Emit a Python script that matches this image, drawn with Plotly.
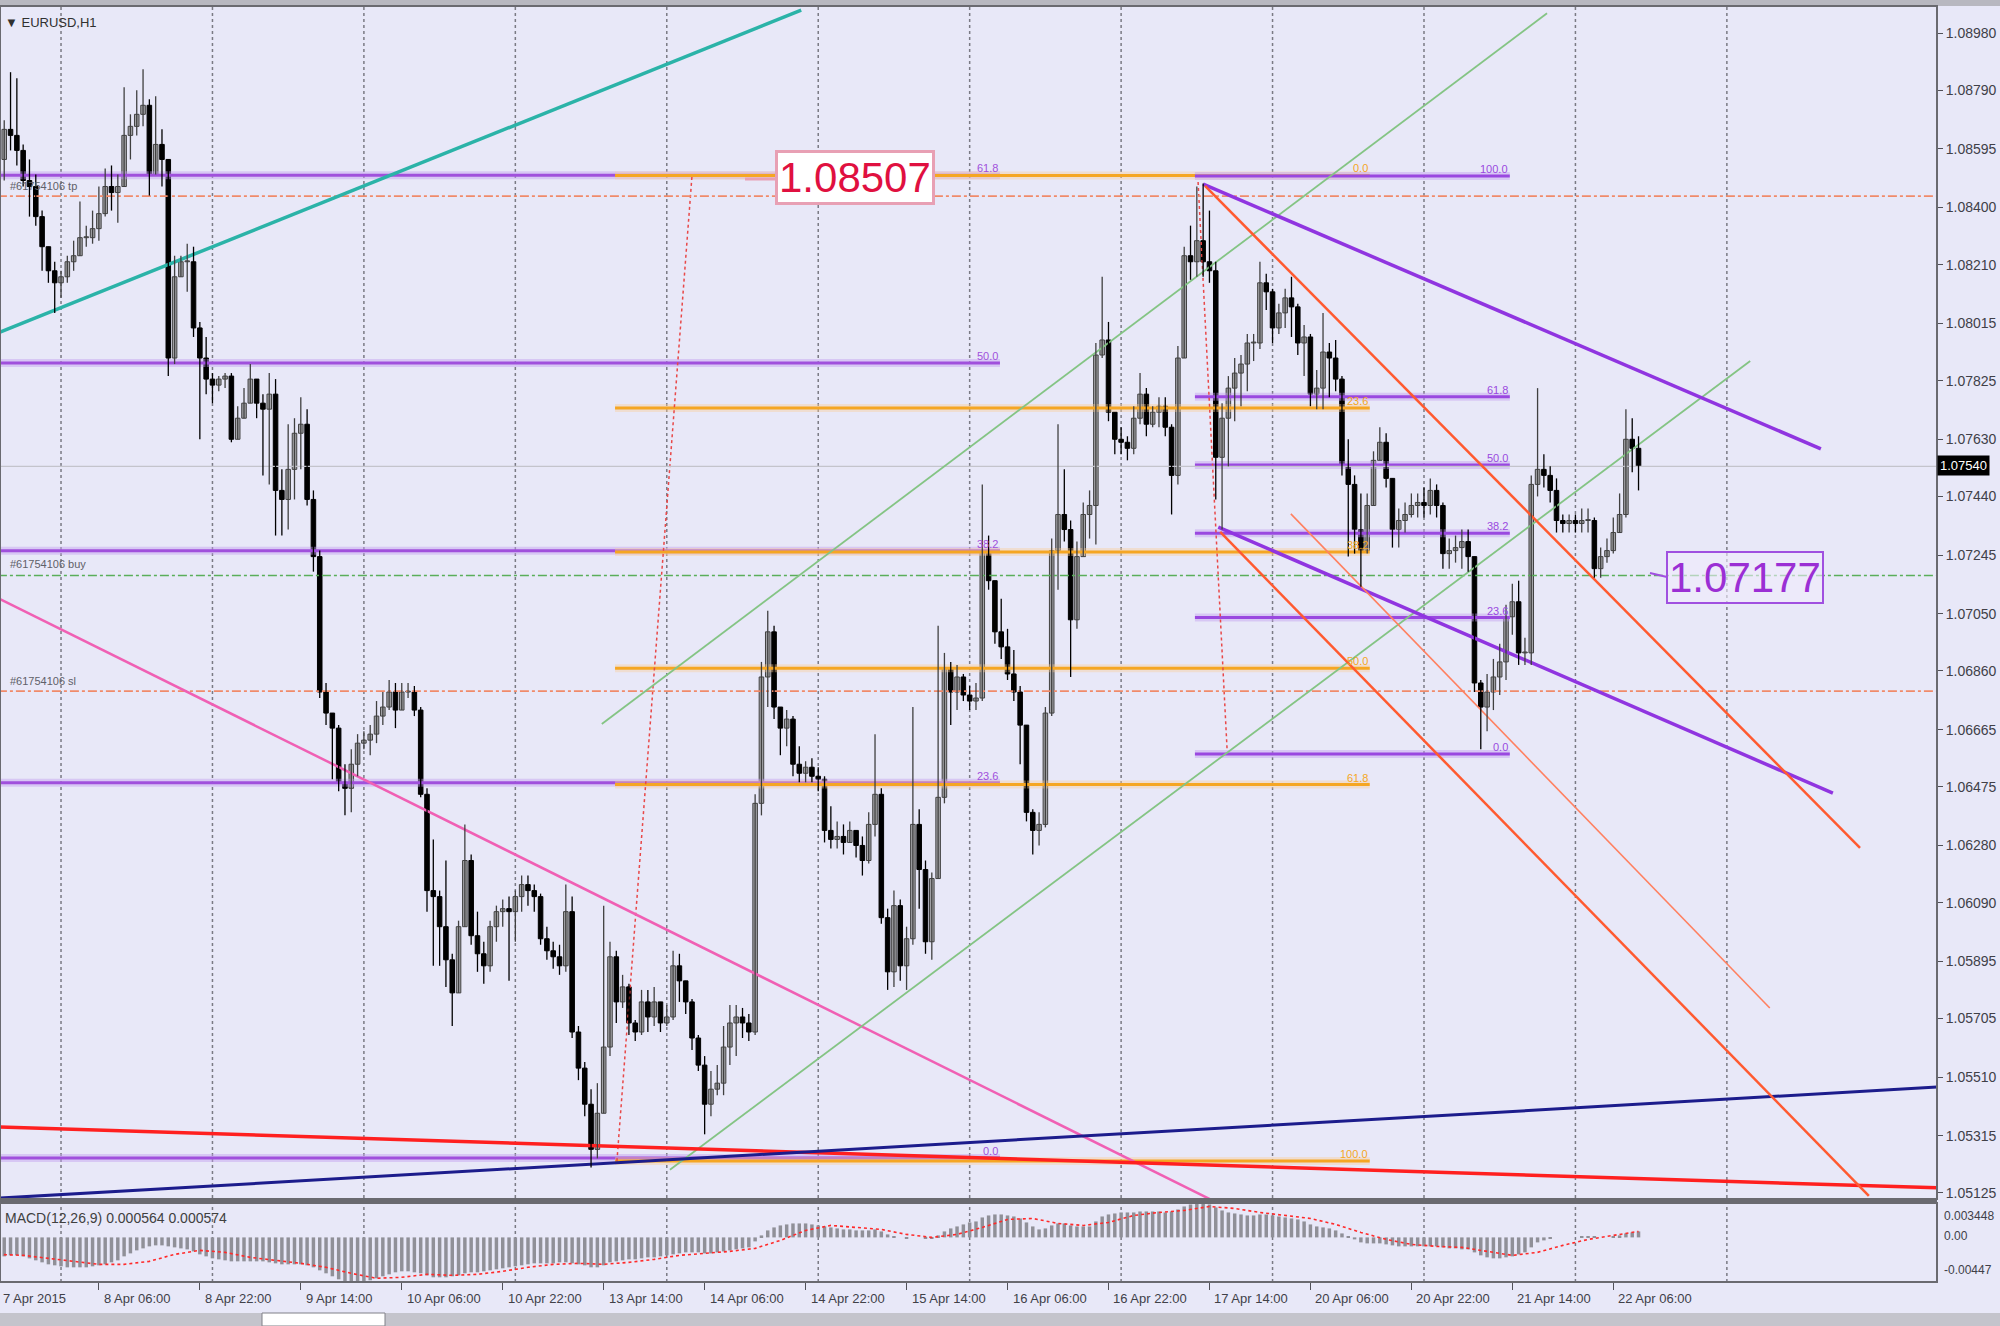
import plotly.graph_objects as go

# ---------------- EURUSD H1 candles (bar 0 = 7 Apr 14:00) ----------------
first_open = 1.0851

closes = [
    1.0856, 1.0866, 1.0864, 1.0859, 1.0849, 1.0847, 1.0837, 1.0827, 1.0819, 1.0815,  # 0
    1.0817, 1.0822, 1.0824, 1.0830, 1.0830, 1.0833, 1.0838, 1.0847, 1.0845, 1.0847,  # 10
    1.0864, 1.0867, 1.0871, 1.0874, 1.0851, 1.0861, 1.0856, 1.0790, 1.0817, 1.0822,  # 20
    1.0822, 1.0800, 1.0790, 1.0783, 1.0781, 1.0783, 1.0784, 1.0763, 1.0770, 1.0775,  # 30
    1.0783, 1.0775, 1.0773, 1.0778, 1.0746, 1.0743, 1.0753, 1.0765, 1.0768, 1.0743,  # 40
    1.0724, 1.0679, 1.0672, 1.0667, 1.0649, 1.0647, 1.0655, 1.0662, 1.0663, 1.0665,  # 50
    1.0671, 1.0674, 1.0679, 1.0673, 1.0679, 1.0679, 1.0673, 1.0645, 1.0613, 1.0611,  # 60
    1.0601, 1.0590, 1.0579, 1.0601, 1.0623, 1.0598, 1.0592, 1.0588, 1.0601, 1.0606,  # 70
    1.0607, 1.0606, 1.0611, 1.0615, 1.0613, 1.0611, 1.0597, 1.0593, 1.0591, 1.0588,  # 80
    1.0606, 1.0566, 1.0554, 1.0542, 1.0527, 1.0539, 1.0561, 1.0591, 1.0576, 1.0581,  # 90
    1.0569, 1.0566, 1.0576, 1.0571, 1.0576, 1.0569, 1.0571, 1.0588, 1.0583, 1.0576,  # 100
    1.0564, 1.0555, 1.0542, 1.0547, 1.0549, 1.0561, 1.0569, 1.0571, 1.0569, 1.0566,  # 110
    1.0642, 1.0684, 1.0699, 1.0674, 1.0667, 1.0670, 1.0655, 1.0652, 1.0654, 1.0651,  # 120
    1.0650, 1.0633, 1.0630, 1.0631, 1.0629, 1.0633, 1.0628, 1.0623, 1.0635, 1.0645,  # 130
    1.0604, 1.0586, 1.0608, 1.0588, 1.0597, 1.0635, 1.0620, 1.0596, 1.0617, 1.0644,  # 140
    1.0687, 1.0679, 1.0684, 1.0678, 1.0676, 1.0677, 1.0726, 1.0716, 1.0699, 1.0694,  # 150
    1.0685, 1.0679, 1.0668, 1.0639, 1.0633, 1.0635, 1.0672, 1.0726, 1.0738, 1.0733,  # 160
    1.0703, 1.0724, 1.0738, 1.0741, 1.0791, 1.0796, 1.0772, 1.0763, 1.0762, 1.0760,  # 170
    1.0770, 1.0778, 1.0768, 1.0772, 1.0774, 1.0767, 1.0751, 1.0790, 1.0824, 1.0822,  # 180
    1.0829, 1.0822, 1.0819, 1.0757, 1.0770, 1.0780, 1.0785, 1.0788, 1.0795, 1.0795,  # 190
    1.0815, 1.0812, 1.0800, 1.0805, 1.0810, 1.0807, 1.0795, 1.0797, 1.0778, 1.0780,  # 200
    1.0792, 1.0790, 1.0783, 1.0754, 1.0748, 1.0733, 1.0726, 1.0741, 1.0756, 1.0762,  # 210
    1.0750, 1.0733, 1.0736, 1.0738, 1.0741, 1.0742, 1.0741, 1.0746, 1.0741, 1.0725,  # 220
    1.0726, 1.0727, 1.0729, 1.0724, 1.0682, 1.0674, 1.0679, 1.0684, 1.0689, 1.0704,  # 230
    1.0709, 1.0692, 1.0692, 1.0748, 1.0753, 1.0751, 1.0746, 1.0736, 1.0735, 1.0736,  # 240
    1.0735, 1.0736, 1.0736, 1.0720, 1.0724, 1.0726, 1.0732, 1.0738, 1.0763, 1.0760,  # 250
    1.0754,                                                                          # 260
]

highs = [
    1.0871, 1.0869, 1.0885, 1.0883, 1.0861, 1.0856, 1.0851, 1.0839, 1.0827, 1.0822,
    1.0819, 1.0824, 1.0829, 1.0842, 1.0834, 1.0839, 1.0847, 1.0853, 1.0854, 1.0851,
    1.0880, 1.0871, 1.0879, 1.0886, 1.0876, 1.0877, 1.0866, 1.0856, 1.0824, 1.0824,
    1.0828, 1.0827, 1.0802, 1.0797, 1.0785, 1.0784, 1.0785, 1.0785, 1.0774, 1.0780,
    1.0788, 1.0783, 1.0778, 1.0785, 1.0783, 1.0753, 1.0768, 1.0770, 1.0777, 1.0773,
    1.0746, 1.0726, 1.0682, 1.0672, 1.0668, 1.0655, 1.0660, 1.0665, 1.0666, 1.0668,
    1.0676, 1.0679, 1.0683, 1.0682, 1.0682, 1.0682, 1.0681, 1.0674, 1.0647, 1.0630,
    1.0613, 1.0623, 1.0592, 1.0603, 1.0635, 1.0625, 1.0606, 1.0596, 1.0603, 1.0608,
    1.0610, 1.0611, 1.0613, 1.0618, 1.0618, 1.0615, 1.0612, 1.0601, 1.0596, 1.0595,
    1.0615, 1.0611, 1.0568, 1.0556, 1.0547, 1.0549, 1.0608, 1.0596, 1.0593, 1.0585,
    1.0582, 1.0570, 1.0580, 1.0580, 1.0581, 1.0574, 1.0575, 1.0593, 1.0592, 1.0582,
    1.0577, 1.0565, 1.0558, 1.0553, 1.0555, 1.0568, 1.0575, 1.0575, 1.0574, 1.0572,
    1.0645, 1.0689, 1.0706, 1.0701, 1.0673, 1.0673, 1.0671, 1.0661, 1.0656, 1.0657,
    1.0654, 1.0651, 1.0641, 1.0636, 1.0635, 1.0636, 1.0633, 1.0631, 1.0639, 1.0665,
    1.0647, 1.0607, 1.0613, 1.0610, 1.0601, 1.0674, 1.0640, 1.0623, 1.0619, 1.0701,
    1.0692, 1.0689, 1.0688, 1.0685, 1.0681, 1.0682, 1.0748, 1.0731, 1.0716, 1.0710,
    1.0700, 1.0693, 1.0681, 1.0668, 1.0640, 1.0639, 1.0674, 1.0730, 1.0768, 1.0753,
    1.0736, 1.0729, 1.0742, 1.0746, 1.0795, 1.0817, 1.0802, 1.0772, 1.0767, 1.0764,
    1.0774, 1.0785, 1.0780, 1.0774, 1.0777, 1.0777, 1.0768, 1.0794, 1.0827, 1.0834,
    1.0847, 1.0848, 1.0839, 1.0822, 1.0775, 1.0784, 1.0790, 1.0791, 1.0798, 1.0798,
    1.0822, 1.0818, 1.0813, 1.0808, 1.0813, 1.0817, 1.0808, 1.0801, 1.0798, 1.0786,
    1.0805, 1.0795, 1.0796, 1.0784, 1.0763, 1.0751, 1.0745, 1.0745, 1.0759, 1.0767,
    1.0765, 1.0750, 1.0740, 1.0742, 1.0745, 1.0745, 1.0747, 1.0750, 1.0748, 1.0742,
    1.0730, 1.0731, 1.0733, 1.0733, 1.0724, 1.0683, 1.0685, 1.0690, 1.0695, 1.0708,
    1.0715, 1.0716, 1.0697, 1.0751, 1.0780, 1.0758, 1.0754, 1.0750, 1.0738, 1.0738,
    1.0738, 1.0740, 1.0740, 1.0737, 1.0727, 1.0730, 1.0737, 1.0745, 1.0773, 1.0770,
    1.0764,
]

lows = [
    1.0847, 1.0849, 1.0859, 1.0854, 1.0847, 1.0837, 1.0834, 1.0819, 1.0815, 1.0805,
    1.0810, 1.0815, 1.0819, 1.0824, 1.0827, 1.0828, 1.0829, 1.0837, 1.0839, 1.0835,
    1.0847, 1.0856, 1.0864, 1.0867, 1.0844, 1.0851, 1.0847, 1.0784, 1.0788, 1.0817,
    1.0812, 1.0797, 1.0763, 1.0778, 1.0775, 1.0779, 1.0780, 1.0762, 1.0763, 1.0770,
    1.0775, 1.0770, 1.0751, 1.0748, 1.0731, 1.0731, 1.0733, 1.0743, 1.0753, 1.0741,
    1.0719, 1.0677, 1.0668, 1.0650, 1.0646, 1.0638, 1.0639, 1.0651, 1.0660, 1.0658,
    1.0662, 1.0668, 1.0673, 1.0667, 1.0673, 1.0677, 1.0671, 1.0644, 1.0606, 1.0588,
    1.0588, 1.0581, 1.0568, 1.0579, 1.0601, 1.0595, 1.0586, 1.0582, 1.0586, 1.0596,
    1.0601, 1.0583, 1.0596, 1.0606, 1.0608, 1.0606, 1.0595, 1.0590, 1.0587, 1.0585,
    1.0586, 1.0564, 1.0550, 1.0538, 1.0521, 1.0524, 1.0547, 1.0558, 1.0569, 1.0574,
    1.0565, 1.0563, 1.0565, 1.0566, 1.0568, 1.0566, 1.0568, 1.0570, 1.0576, 1.0572,
    1.0560, 1.0553, 1.0532, 1.0538, 1.0545, 1.0545, 1.0555, 1.0558, 1.0564, 1.0563,
    1.0565, 1.0638, 1.0674, 1.0670, 1.0658, 1.0661, 1.0651, 1.0649, 1.0649, 1.0649,
    1.0646, 1.0629, 1.0627, 1.0627, 1.0625, 1.0629, 1.0624, 1.0618, 1.0622, 1.0631,
    1.0602, 1.0580, 1.0581, 1.0583, 1.0580, 1.0595, 1.0607, 1.0592, 1.0590, 1.0617,
    1.0642, 1.0668, 1.0673, 1.0676, 1.0673, 1.0673, 1.0676, 1.0713, 1.0695, 1.0690,
    1.0683, 1.0676, 1.0655, 1.0636, 1.0625, 1.0628, 1.0634, 1.0671, 1.0713, 1.0729,
    1.0684, 1.0700, 1.0724, 1.0730, 1.0728, 1.0790, 1.0769, 1.0758, 1.0758, 1.0756,
    1.0758, 1.0768, 1.0764, 1.0767, 1.0767, 1.0764, 1.0738, 1.0748, 1.0790, 1.0816,
    1.0817, 1.0817, 1.0815, 1.0743, 1.0733, 1.0754, 1.0769, 1.0774, 1.0779, 1.0789,
    1.0793, 1.0806, 1.0795, 1.0798, 1.0800, 1.0797, 1.0791, 1.0784, 1.0774, 1.0773,
    1.0773, 1.0777, 1.0779, 1.0751, 1.0724, 1.0725, 1.0714, 1.0725, 1.0742, 1.0757,
    1.0747, 1.0727, 1.0727, 1.0732, 1.0737, 1.0737, 1.0737, 1.0738, 1.0737, 1.0720,
    1.0720, 1.0722, 1.0720, 1.0719, 1.0679, 1.0660, 1.0666, 1.0673, 1.0678, 1.0683,
    1.0698, 1.0688, 1.0688, 1.0688, 1.0744, 1.0747, 1.0742, 1.0732, 1.0732, 1.0732,
    1.0732, 1.0732, 1.0732, 1.0717, 1.0717, 1.0722, 1.0725, 1.0732, 1.0737, 1.0752,
    1.0746,
]

# MACD(12,26,9) main histogram, in units of 1e-4
macd_hist_e4 = [
    -20, -19, -18, -18, -19, -21, -23, -25, -27, -28,
    -29, -30, -30, -30, -30, -29, -28, -27, -25, -23,
    -19, -16, -13, -11, -9, -8, -8, -9, -10, -11,
    -12, -14, -17, -19, -21, -22, -23, -24, -24, -24,
    -24, -24, -24, -25, -26, -27, -27, -27, -27, -28,
    -30, -33, -36, -39, -42, -44, -45, -45, -44, -43,
    -41, -39, -37, -35, -34, -34, -35, -36, -38, -40,
    -40, -40, -39, -38, -36, -35, -35, -34, -33, -32,
    -31, -30, -29, -28, -27, -26, -26, -26, -26, -25,
    -25, -26, -27, -28, -30, -30, -28, -25, -24, -23,
    -22, -22, -21, -20, -20, -19, -18, -17, -16, -15,
    -15, -15, -16, -16, -15, -14, -13, -12, -11, -10,
    -4, 2, 7, 10, 12, 13, 14, 14, 14, 13,
    12, 11, 10, 9, 8, 8, 7, 7, 7, 8,
    6, 3, 1, 0, -1, 0, 0, -1, -1, 2,
    6, 9, 11, 13, 15, 16, 20, 22, 23, 23,
    22, 21, 19, 15, 11, 8, 9, 12, 14, 14,
    12, 11, 11, 11, 16, 21, 23, 24, 25, 25,
    25, 26, 26, 26, 26, 25, 26, 28, 31, 33,
    34, 34, 33, 30, 27, 25, 24, 23, 22, 22,
    23, 23, 22, 21, 20, 19, 18, 16, 13, 11,
    10, 9, 7, 4, 1, -2, -5, -6, -6, -6,
    -7, -8, -9, -9, -9, -9, -9, -9, -9, -10,
    -11, -11, -12, -12, -15, -18, -20, -21, -21, -20,
    -19, -17, -15, -10, -5, -3, -1, 0, 0, 0,
    0, 1, 1, 1, 0, 0, 1, 2, 4, 5,
    6,
]

# signal line, read every 4th bar (1e-4 units)
signal_bars = list(range(0, 261, 4))
signal_e4 = [
    -17, -18, -21, -24, -27, -27, -24, -17, -13, -15, -20, -23, -26, -30, -36, -41,
    -40, -37, -38, -37, -34, -30, -27, -26, -27, -25, -22, -18, -16, -14, -11, -3,
    7, 12, 10, 8, 3, 0, 3, 10, 18, 19, 14, 12, 15, 22, 25, 27, 31, 29,
    25, 22, 19, 13, 5, -2, -7, -9, -10, -14, -18, -15, -8, -2, 2, 6,
]
macd_max, macd_min = 0.003448, -0.00447

time_labels = ["7 Apr 2015", "8 Apr 06:00", "8 Apr 22:00", "9 Apr 14:00", "10 Apr 06:00",
               "10 Apr 22:00", "13 Apr 14:00", "14 Apr 06:00", "14 Apr 22:00", "15 Apr 14:00",
               "16 Apr 06:00", "16 Apr 22:00", "17 Apr 14:00", "20 Apr 06:00", "20 Apr 22:00",
               "21 Apr 14:00", "22 Apr 06:00"]
time_label_bars = [0, 16, 32, 48, 64, 80, 96, 112, 128, 144, 160, 176, 192, 208, 224, 240, 256]
day_start_bars = [10, 34, 58, 82, 106, 130, 154, 178, 202, 226, 250, 274]

price_ticks = [1.08980, 1.08790, 1.08595, 1.08400, 1.08210, 1.08015, 1.07825, 1.07630,
               1.07440, 1.07245, 1.07050, 1.06860, 1.06665, 1.06475, 1.06280, 1.06090,
               1.05895, 1.05705, 1.05510, 1.05315, 1.05125]

# ---------------- drawn objects (bar index, price) ----------------
fib_levels = [0.0, 23.6, 38.2, 50.0, 61.8, 100.0]
fib1 = dict(x=[-5, 158.8], p0=1.05241, p100=1.10526)      # purple, left
fib2 = dict(x=[97.8, 217.4], p0=1.08507, p100=1.05231)    # orange, middle
fib3 = dict(x=[189.7, 239.6], p0=1.06584, p100=1.08505)   # purple, right
fib2_anchor_x, fib2_anchor_y = [98.1, 110.0], [1.05231, 1.08507]
fib3_anchor_x, fib3_anchor_y = [190.2, 194.8], [1.08485, 1.06597]

order_tp, order_buy, order_sl = 1.08438, 1.07177, 1.06793
last_price = 1.07540

cyan_x, cyan_y = [0.33, 127.3], [1.07986, 1.09056]
pink_x, pink_y = [0.33, 205.0], [1.07099, 1.04970]
green_up_x, green_up_y = [95.7, 245.5], [1.06684, 1.09046]
green_lo_x, green_lo_y = [106.5, 277.7], [1.05202, 1.07890]
purple_up_x, purple_up_y = [191.0, 288.9], [1.08478, 1.07598]
purple_lo_x, purple_lo_y = [193.4, 290.8], [1.07338, 1.06454]
fork_a_x, fork_a_y = [191.3, 295.1], [1.08472, 1.06272]
fork_b_x, fork_b_y = [193.7, 296.5], [1.07322, 1.05115]
fork_c_x, fork_c_y = [204.9, 280.8], [1.07382, 1.05740]
red_x, red_y = [0.33, 307.3], [1.05344, 1.05142]
navy_x, navy_y = [0.33, 307.3], [1.05108, 1.05477]

W, H = 2000, 1326
XR = 1937                      # right edge of the chart panes, px
BG = "#e8e8f8"
SANS = "Liberation Sans, Arial"


def py(p):
    return 1 - p / H


def px(p):
    return p / W


bars = list(range(len(closes)))
opens = [first_open] + closes[:-1]
highs = [max(h, o, c) for h, o, c in zip(highs, opens, closes)]
lows = [min(l, o, c) for l, o, c in zip(lows, opens, closes)]

fig = go.Figure()


def add_line(x, y, color, width, dash=None):
    fig.add_trace(go.Scatter(x=x, y=y, mode="lines", hoverinfo="skip", showlegend=False,
                             line=dict(color=color, width=width, dash=dash)))


annotations = []


def add_fib(fib, levels, color, halo):
    for lv in levels:
        price = fib["p0"] + (fib["p100"] - fib["p0"]) * lv / 100
        add_line(fib["x"], [price, price], halo, 8)
        add_line(fib["x"], [price, price], color, 3)
        annotations.append(dict(x=fib["x"][1], y=price, xref="x", yref="y", text=f"{lv:.1f}",
                                showarrow=False, xanchor="right", yanchor="bottom", yshift=-1,
                                font=dict(family=SANS, size=11, color=color)))


# candle bodies (bars with a base) and wicks
up = [c >= o for o, c in zip(opens, closes)]
fig.add_trace(go.Bar(
    x=bars, base=[min(o, c) for o, c in zip(opens, closes)],
    y=[max(abs(c - o), 0.00003) for o, c in zip(opens, closes)],
    width=0.72,
    marker=dict(color=["#a4a4a8" if u else "#000000" for u in up],
                line=dict(color=["#404040" if u else "#000000" for u in up], width=1)),
    hoverinfo="skip", showlegend=False, xaxis="x", yaxis="y"))

# fibonacci retracements
add_fib(fib1, fib_levels[:5], "#a050dc", "rgba(195,160,240,0.45)")
add_fib(fib2, fib_levels, "#f5a623", "rgba(250,205,150,0.40)")
add_fib(fib3, fib_levels, "#9a48e0", "rgba(195,160,240,0.45)")
add_line(fib2_anchor_x, fib2_anchor_y, "#e84848", 1.5, "dot")
add_line(fib3_anchor_x, fib3_anchor_y, "#e84848", 1.5, "dot")

# order levels and bid line
add_line([0, 310], [last_price, last_price], "#c4c4cc", 1.2)
add_line([0, 310], [order_tp, order_tp], "#f08a6a", 1.6, "dashdot")
add_line([0, 310], [order_buy, order_buy], "#5aae5a", 1.6, "dashdot")
add_line([0, 310], [order_sl, order_sl], "#f08a6a", 1.6, "dashdot")

# trend lines / channels
add_line(cyan_x, cyan_y, "#2bb3a8", 3.5)
add_line(pink_x, pink_y, "#f060b4", 2.5)
add_line(green_up_x, green_up_y, "#84c484", 1.8)
add_line(green_lo_x, green_lo_y, "#84c484", 1.8)
add_line(red_x, red_y, "#ff2020", 3.5)
add_line(navy_x, navy_y, "#1c1c8c", 3)
add_line(purple_up_x, purple_up_y, "#9035e0", 3.5)
add_line(purple_lo_x, purple_lo_y, "#9035e0", 3.5)
add_line(fork_a_x, fork_a_y, "#ff5a30", 2.5)
add_line(fork_b_x, fork_b_y, "#ff5a30", 2.5)
add_line(fork_c_x, fork_c_y, "#ff8060", 1.6)

# wicks on top
for flag, color in [(True, "#404040"), (False, "#000000")]:
    wx, wy = [], []
    for b, h, l, u in zip(bars, highs, lows, up):
        if u == flag:
            wx += [b, b, None]
            wy += [l, h, None]
    add_line(wx, wy, color, 1.3)

# MACD pane
fig.add_trace(go.Bar(x=bars, y=[v / 1e4 for v in macd_hist_e4], width=0.55,
                     marker=dict(color="#909098", line=dict(width=0)),
                     hoverinfo="skip", showlegend=False, xaxis="x2", yaxis="y2"))
fig.add_trace(go.Scatter(x=signal_bars, y=[v / 1e4 for v in signal_e4], mode="lines",
                         line=dict(color="#ff2a2a", width=1.6, dash="dot"),
                         hoverinfo="skip", showlegend=False, xaxis="x2", yaxis="y2"))

# vertical dotted grid at day starts
shapes = []
for b in day_start_bars:
    shapes.append(dict(type="line", xref="x", yref="paper", x0=b, x1=b, y0=py(1282), y1=py(6),
                       line=dict(color="#7a7a84", width=1.5, dash="dot"), layer="below"))

# frames
shapes += [
    dict(type="rect", xref="paper", yref="paper", x0=0, x1=1, y0=py(6), y1=1,
         fillcolor="#b8b8c0", line=dict(width=0)),
    dict(type="rect", xref="paper", yref="paper", x0=0, x1=px(XR), y0=py(1199), y1=py(6),
         line=dict(color="#6a6a70", width=2)),
    dict(type="rect", xref="paper", yref="paper", x0=0, x1=px(XR), y0=py(1203), y1=py(1199),
         fillcolor="#6a6a70", line=dict(width=0)),
    dict(type="rect", xref="paper", yref="paper", x0=0, x1=px(XR), y0=py(1282), y1=py(1203),
         line=dict(color="#6a6a70", width=2)),
    dict(type="rect", xref="paper", yref="paper", x0=0, x1=1, y0=0, y1=py(1313),
         fillcolor="#c4c4cc", line=dict(width=0)),
    dict(type="rect", xref="paper", yref="paper", x0=px(262), x1=px(385), y0=0, y1=py(1313),
         fillcolor="#ffffff", line=dict(color="#808088", width=1)),
    # small connectors of the two price boxes
    dict(type="line", xref="paper", yref="paper", x0=px(745), x1=px(776), y0=py(179), y1=py(179),
         line=dict(color="#e8a0b4", width=3)),
    dict(type="line", xref="paper", yref="paper", x0=px(1650), x1=px(1667), y0=py(573),
         y1=py(577), line=dict(color="#a050e0", width=2)),
]

# price boxes and texts
annotations += [
    dict(x=px(855), y=py(178), xref="paper", yref="paper", text="1.08507", showarrow=False,
         xanchor="center", yanchor="middle",
         font=dict(family=SANS, size=42, color="#e01040"), bgcolor="#ffffff",
         bordercolor="#e8a0b4", borderwidth=3, borderpad=1),
    dict(x=px(1745), y=py(577), xref="paper", yref="paper", text="1.07177", showarrow=False,
         xanchor="center", yanchor="middle",
         font=dict(family=SANS, size=42, color="#9b2fd4"), bgcolor="rgba(240,235,252,0.6)",
         bordercolor="#a050e0", borderwidth=2, borderpad=1),
    dict(x=px(XR), y=py(466), xref="paper", yref="paper", text="1.07540", showarrow=False,
         xanchor="left", yanchor="middle", font=dict(family=SANS, size=13, color="#ffffff"),
         bgcolor="#000000", borderpad=2),
    dict(x=px(3), y=py(22), xref="paper", yref="paper", text="▼ EURUSD,H1", showarrow=False,
         xanchor="left", yanchor="middle", font=dict(family=SANS, size=13, color="#303030")),
    dict(x=px(3), y=py(1218), xref="paper", yref="paper",
         text="MACD(12,26,9) 0.000564 0.000574", showarrow=False, xanchor="left",
         yanchor="middle", font=dict(family=SANS, size=14, color="#404040")),
    dict(x=px(8), y=py(186), xref="paper", yref="paper", text="#61754106 tp", showarrow=False,
         xanchor="left", yanchor="middle", font=dict(family=SANS, size=11, color="#606068")),
    dict(x=px(8), y=py(564), xref="paper", yref="paper", text="#61754106 buy", showarrow=False,
         xanchor="left", yanchor="middle", font=dict(family=SANS, size=11, color="#606068")),
    dict(x=px(8), y=py(681), xref="paper", yref="paper", text="#61754106 sl", showarrow=False,
         xanchor="left", yanchor="middle", font=dict(family=SANS, size=11, color="#606068")),
]
for val, ypix in zip(["0.003448", "0.00", "-0.00447"], [1216, 1236, 1270]):
    annotations.append(dict(x=px(XR + 5), y=py(ypix), xref="paper", yref="paper", text=val,
                            showarrow=False, xanchor="left", yanchor="middle",
                            font=dict(family=SANS, size=12, color="#404048")))
for b, t in zip(time_label_bars, time_labels):
    if b == 0:
        annotations.append(dict(x=0, y=py(1298), xref="paper", yref="paper", text=t,
                                showarrow=False, xanchor="left", yanchor="middle", xshift=1,
                                font=dict(family=SANS, size=13, color="#404048")))
        continue
    annotations.append(dict(x=b, y=py(1298), xref="x2", yref="paper", text=t, showarrow=False,
                            xanchor="left", yanchor="middle", xshift=3,
                            font=dict(family=SANS, size=13, color="#404048")))

fig.update_layout(
    width=W, height=H,
    margin=dict(l=0, r=0, t=0, b=0, pad=0, autoexpand=False),
    paper_bgcolor=BG, plot_bgcolor=BG,
    showlegend=False,
    barmode="overlay",
    xaxis=dict(domain=[0, px(XR)], range=[0.33, 307.3], anchor="y", showticklabels=False,
               showgrid=False, zeroline=False),
    yaxis=dict(domain=[py(1199), py(6)], range=[1.05105, 1.09070], side="right", anchor="x",
               tickvals=price_ticks, ticktext=[f"{p:.5f}" for p in price_ticks],
               ticks="outside", ticklen=5, tickcolor="#505058",
               tickfont=dict(family=SANS, size=14, color="#404048"),
               showgrid=False, zeroline=False),
    xaxis2=dict(domain=[0, px(XR)], matches="x", anchor="y2", tickvals=time_label_bars,
                ticks="outside", ticklen=7, tickcolor="#505058", showticklabels=False,
                showgrid=False, zeroline=False),
    yaxis2=dict(domain=[py(1282), py(1203)], range=[macd_min, macd_max], side="right",
                anchor="x2", showticklabels=False, showgrid=False, zeroline=False),
    shapes=shapes,
    annotations=annotations,
)

# the page body has a default 8px margin; drop it so the chart sits at the window corner
fig.write_html("out.html", config={"displayModeBar": False},
               post_script="document.body.style.margin='0';")
